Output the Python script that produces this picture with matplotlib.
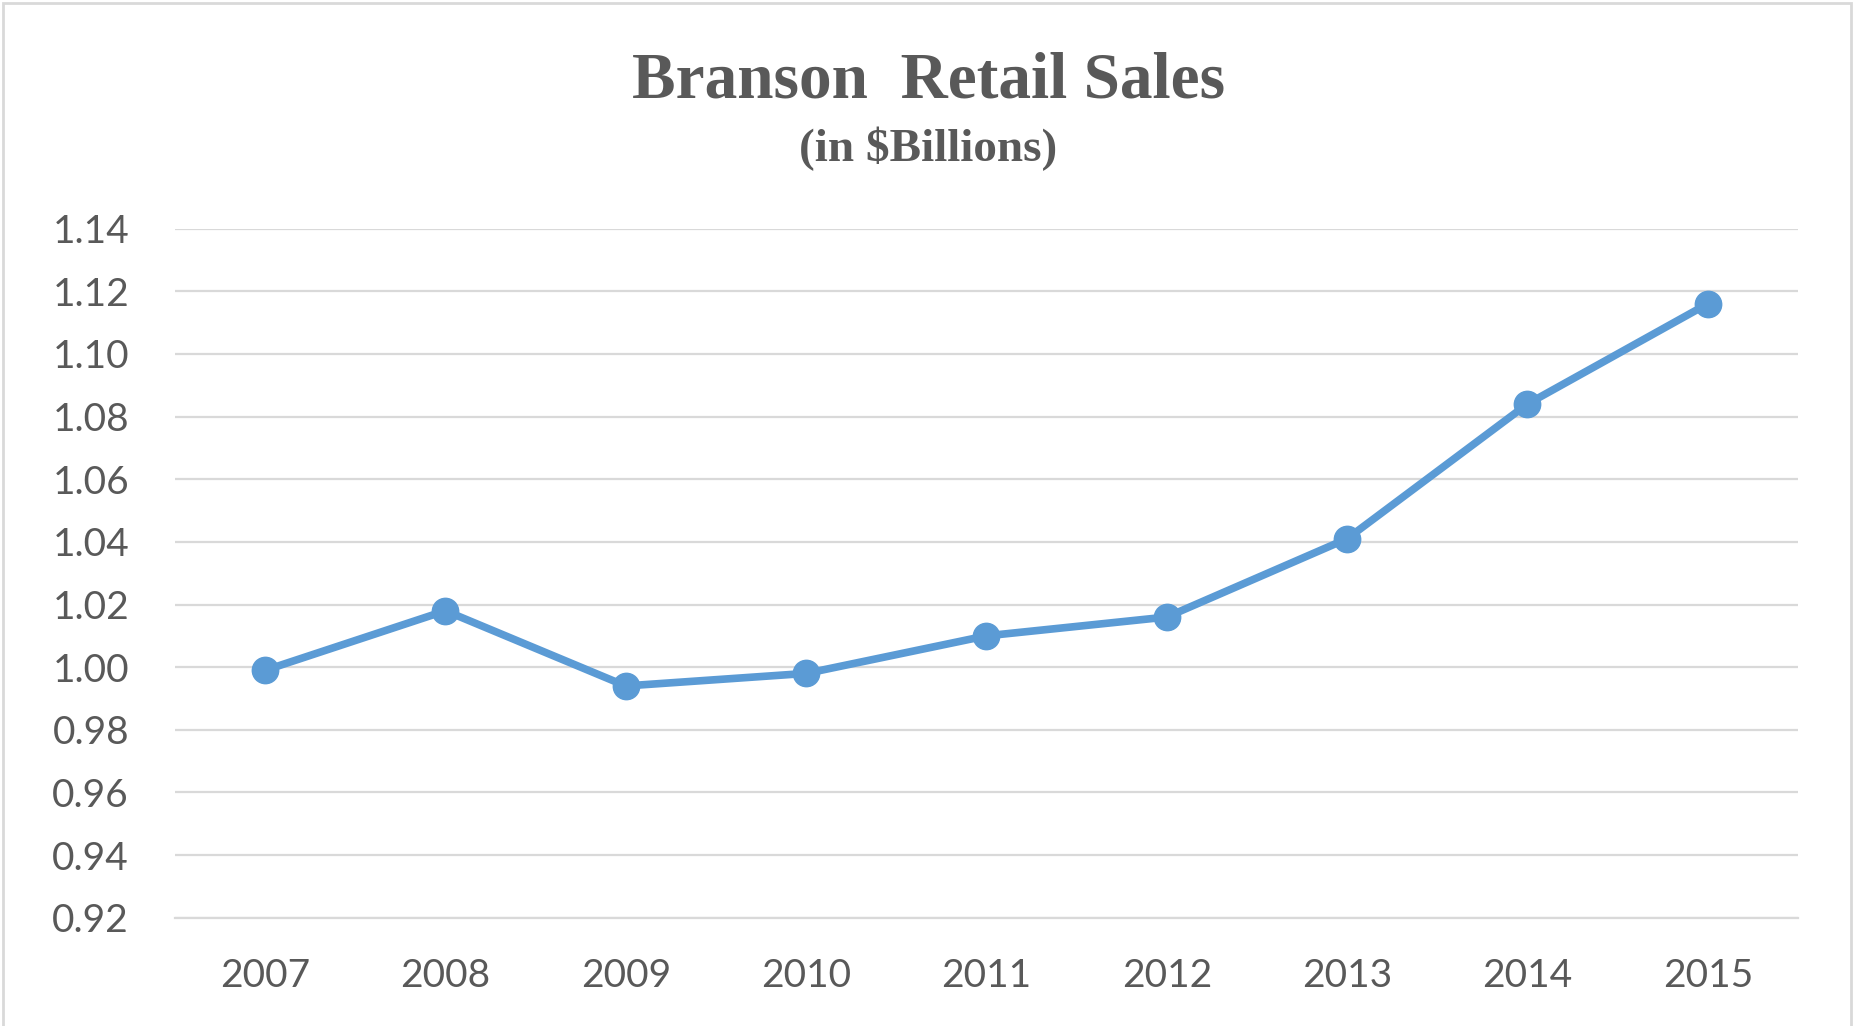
import matplotlib
matplotlib.use('Agg')
import matplotlib.pyplot as plt
from matplotlib.patches import Rectangle

years = ['2007', '2008', '2009', '2010', '2011', '2012', '2013', '2014', '2015']
sales = [0.999, 1.018, 0.994, 0.998, 1.010, 1.016, 1.041, 1.084, 1.116]
y_ticks = [0.92, 0.94, 0.96, 0.98, 1.00, 1.02, 1.04, 1.06, 1.08, 1.10, 1.12, 1.14]

text_grey = '#595959'
line_blue = '#5B9BD5'
grid_grey = '#D9D9D9'

fig = plt.figure(figsize=[18.57, 10.26], dpi=100)
ax = fig.add_axes([0.0942, 0.1055, 0.874, 0.6717])

x = list(range(len(years)))
ax.plot(x, sales, color=line_blue, linewidth=5.5, marker='o', markersize=19,
        zorder=3)

ax.set_xlim(-0.5, len(years) - 0.5)
ax.set_ylim(y_ticks[0], y_ticks[-1])
ax.set_yticks(y_ticks)
ax.set_yticklabels([f'{v:.2f}' for v in y_ticks])
ax.set_xticks(x)
ax.set_xticklabels(years)

ax.grid(True, axis='y', color=grid_grey, linewidth=1.6)
ax.set_axisbelow(True)
for side in ['left', 'right', 'top']:
    ax.spines[side].set_visible(False)
ax.spines['bottom'].set_color(grid_grey)
ax.spines['bottom'].set_linewidth(1.6)
ax.tick_params(axis='both', length=0, colors=text_grey, labelsize=28)
ax.tick_params(axis='y', pad=33)
ax.tick_params(axis='x', pad=29)
for lbl in ax.get_xticklabels() + ax.get_yticklabels():
    lbl.set_family('Lato')

fig.text(0.5, 0.921, 'Branson  Retail Sales', ha='center', va='center',
         family='Liberation Serif', weight='bold', fontsize=47, color=text_grey)
fig.text(0.5, 0.855, '(in $Billions)', ha='center', va='center',
         family='Liberation Serif', weight='bold', fontsize=34, color=text_grey)

# chart area border
fig.add_artist(Rectangle((3 / 1857, -0.02), 1848 / 1857, 1.02 - 3 / 1026,
                         transform=fig.transFigure, fill=False,
                         edgecolor=grid_grey, linewidth=2))

plt.savefig('out.png', dpi=100)
